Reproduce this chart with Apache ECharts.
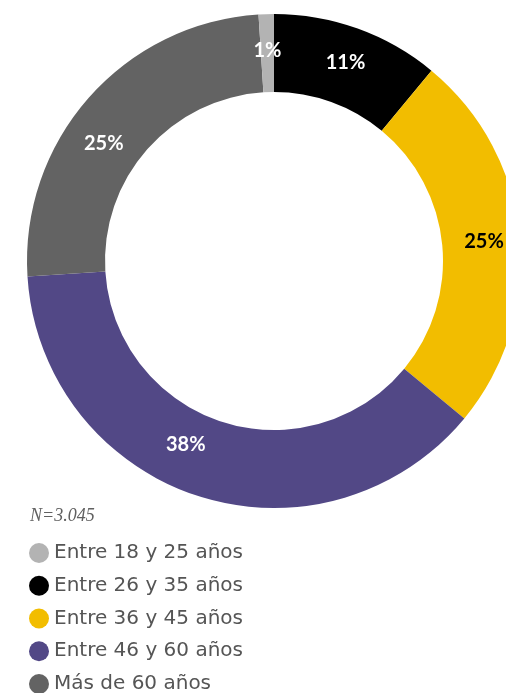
<!DOCTYPE html>
<html>
<head>
<meta charset="utf-8">
<script src="https://cdn.jsdelivr.net/npm/echarts@6/dist/echarts.min.js"></script>
<style>
  html, body { margin: 0; padding: 0; background: #ffffff; }
  #chart { width: 506px; height: 693px; }
</style>
</head>
<body>
<div id="chart"></div>
<script>
// Age groups and their share of respondents (%)
const categories = ['Entre 18 y 25 años', 'Entre 26 y 35 años', 'Entre 36 y 45 años', 'Entre 46 y 60 años', 'Más de 60 años'];
const values = [1, 11, 25, 38, 25];
const colors = ['#b3b3b3', '#000000', '#f2bd00', '#524886', '#636363'];
const labelColors = ['#ffffff', '#ffffff', '#000000', '#ffffff', '#ffffff'];
// Label nudges [dx, dy] in px, moving a few percentages off the slice centre
const labelShift = [[0, 0], [0, 0], [0, 0], [-23, -17], [-12, 22]];
const sampleNote = 'N=3.045';

// Ring is drawn clockwise from 12 o'clock, starting with the 26–35 group
const ringOrder = [1, 2, 3, 4, 0];
const ringData = ringOrder.map(i => ({
  name: categories[i],
  value: values[i],
  itemStyle: { color: colors[i] },
  label: { color: labelColors[i], offset: labelShift[i] }
}));

const chart = echarts.init(document.getElementById('chart'));
chart.setOption({
  animation: false,
  color: colors,
  legend: {
    data: categories,
    orient: 'vertical',
    left: 29,
    top: 543,
    height: 160,
    padding: 0,
    icon: 'circle',
    itemWidth: 20,
    itemHeight: 20,
    itemGap: 12.75,
    selectedMode: false,
    textStyle: {
      fontFamily: 'DejaVu Sans',
      fontSize: 20,
      color: '#555555'
    }
  },
  graphic: [{
    type: 'text',
    left: 30,
    top: 507,
    style: {
      text: sampleNote,
      fontFamily: 'Liberation Serif',
      fontStyle: 'italic',
      fontSize: 18,
      fill: '#606060'
    }
  }],
  series: [{
    type: 'pie',
    center: [274, 261],
    radius: [169, 247],
    startAngle: 90,
    clockwise: true,
    avoidLabelOverlap: false,
    label: {
      show: true,
      position: 'inside',
      formatter: '{c}%',
      fontFamily: 'Lato',
      fontWeight: 'bold',
      fontSize: 20
    },
    labelLine: { show: false },
    emphasis: { disabled: true },
    itemStyle: { borderWidth: 0 },
    data: ringData
  }]
});
</script>
</body>
</html>
